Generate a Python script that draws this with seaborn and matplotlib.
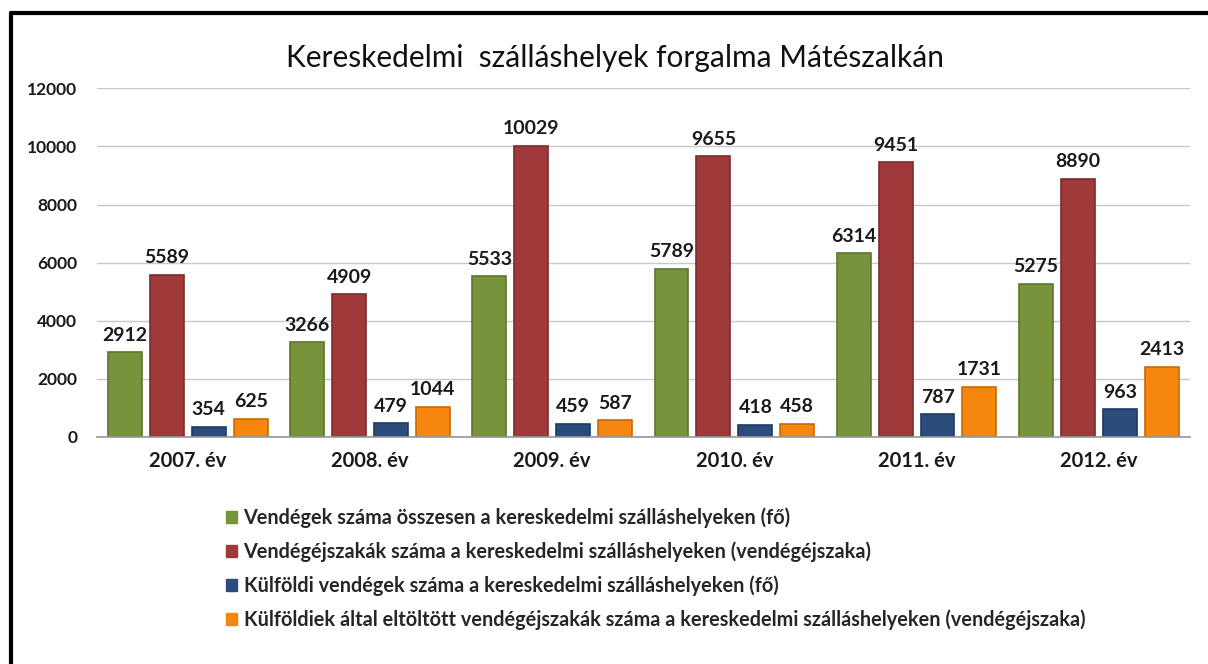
import pandas as pd
import seaborn as sns
import numpy as np
import matplotlib.pyplot as plt
from matplotlib.lines import Line2D

years = ['2007. év', '2008. év', '2009. év', '2010. év', '2011. év', '2012. év']
series_names = [
    'Vendégek száma összesen a kereskedelmi szálláshelyeken (fő)',
    'Vendégéjszakák száma a kereskedelmi szálláshelyeken (vendégéjszaka)',
    'Külföldi vendégek száma a kereskedelmi szálláshelyeken (fő)',
    'Külföldiek által eltöltött vendégéjszakák száma a kereskedelmi szálláshelyeken (vendégéjszaka)',
]
vendegek = [2912, 3266, 5533, 5789, 6314, 5275]
vendegejszakak = [5589, 4909, 10029, 9655, 9451, 8890]
kulfoldi_vendegek = [354, 479, 459, 418, 787, 963]
kulfoldi_ejszakak = [625, 1044, 587, 458, 1731, 2413]

colors = ['#77933C', '#A03A3A', '#2A4C7C', '#F7860F']
edge_colors = ['#5E7530', '#7E2C2C', '#1E3A60', '#C86A08']

sns.set_theme(style='white')
plt.rcParams['font.family'] = ['Lato', 'DejaVu Sans']

# hosszú formátum a seabornnak
df = pd.DataFrame({
    'ev': years * 4,
    'sorozat': np.repeat(series_names, len(years)),
    'ertek': vendegek + vendegejszakak + kulfoldi_vendegek + kulfoldi_ejszakak,
})

fig = plt.figure(figsize=(12.08, 6.64), dpi=100)
ax = fig.add_axes([0.080, 0.342, 0.905, 0.525])

sns.barplot(data=df, x='ev', y='ertek', hue='sorozat', hue_order=series_names,
            palette=colors, width=0.92, gap=0.19, ax=ax, legend=False,
            edgecolor='none', saturation=1)

for c, ec in zip(ax.containers, edge_colors):
    for p in c.patches:
        p.set_edgecolor(ec)
        p.set_linewidth(1.2)
    ax.bar_label(c, fmt='%d', padding=6, fontsize=14, fontweight='bold', color='#1a1a1a')

ax.set_ylim(0, 12000)
ax.set_yticks(range(0, 12001, 2000))
ax.yaxis.grid(True, color='#c8c8c8', lw=1)
ax.set_axisbelow(True)
ax.set_xlabel('')
ax.set_ylabel('')
for s in ['top', 'right', 'left']:
    ax.spines[s].set_visible(False)
ax.spines['bottom'].set_color('#9a9a9a')
ax.tick_params(axis='y', labelsize=12.5, pad=14, length=0)
ax.tick_params(axis='x', labelsize=14.5, pad=10, length=0)
for lab in ax.get_yticklabels() + ax.get_xticklabels():
    lab.set_fontweight('bold')
    lab.set_color('#1a1a1a')

fig.text(0.509, 0.913, 'Kereskedelmi  szálláshelyek forgalma Mátészalkán',
         ha='center', va='center', fontsize=21.5, color='#111111')

handles = [plt.Rectangle((0, 0), 1, 1, color=c) for c in colors]
fig.legend(handles, series_names, loc='upper left', bbox_to_anchor=(0.172, 0.262),
           frameon=False, handlelength=0.55, handleheight=0.55, handletextpad=0.35,
           labelspacing=0.66, prop={'size': 14.3, 'weight': 'bold'})

# keret a kép bal és felső szélén
fig.add_artist(Line2D([11 / 1208, 11 / 1208], [0, 1 - 13 / 664], transform=fig.transFigure,
                      color='black', lw=3))
fig.add_artist(Line2D([11 / 1208, 1], [1 - 13 / 664, 1 - 13 / 664], transform=fig.transFigure,
                      color='black', lw=3))

fig.savefig('out.png', dpi=100)
